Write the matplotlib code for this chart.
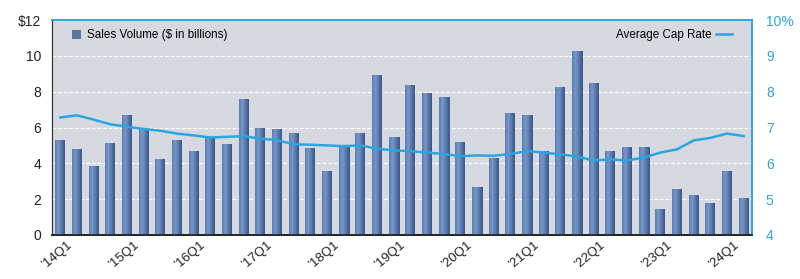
import matplotlib
matplotlib.use("Agg")
import matplotlib.pyplot as plt
import matplotlib.transforms as mtransforms
import numpy as np
from matplotlib.colors import LinearSegmentedColormap
from matplotlib.lines import Line2D
from matplotlib.patches import Patch

plt.rcParams['font.family'] = ['Liberation Sans', 'DejaVu Sans']

quarters = [f"{y}Q{q}" for y in range(14, 25) for q in range(1, 5)][:42]
tick_labels = ["\u2019" + q if q.endswith("Q1") else "" for q in quarters]

sales_volume = [5.28, 4.78, 3.80, 5.11, 6.70, 5.89, 4.22, 5.30, 4.69, 5.37,
                5.06, 7.59, 5.93, 5.89, 5.65, 4.81, 3.54, 4.96, 5.67, 8.91,
                5.44, 8.35, 7.89, 7.69, 5.19, 2.63, 4.30, 6.76, 6.70, 4.65,
                8.22, 10.24, 8.44, 4.65, 4.87, 4.87, 1.43, 2.56, 2.19, 1.74,
                3.54, 2.04]
cap_rate = [7.28, 7.34, 7.22, 7.09, 7.02, 6.96, 6.91, 6.83, 6.78, 6.72,
            6.74, 6.76, 6.69, 6.65, 6.53, 6.52, 6.50, 6.48, 6.50, 6.41,
            6.36, 6.34, 6.30, 6.26, 6.20, 6.22, 6.21, 6.26, 6.34, 6.30,
            6.25, 6.19, 6.08, 6.11, 6.08, 6.16, 6.30, 6.39, 6.64, 6.71,
            6.83, 6.76]

cyan = "#2aa6df"
bg = "#d6dae0"

fig = plt.figure(figsize=(8.0, 2.79), dpi=100)
ax = fig.add_axes([0.065, 0.158, 0.875, 0.770])
ax.set_facecolor(bg)
x = np.arange(len(sales_volume))
bars = ax.bar(x, sales_volume, width=0.6, color="none", edgecolor="none", zorder=3)

cmap = LinearSegmentedColormap.from_list("barg", ["#5a7db2", "#7898c8", "#5677aa", "#3a5684"])
grad = np.linspace(0, 1, 64).reshape(1, -1)
for b in bars:
    x0, y0 = b.get_x(), b.get_y()
    w, h = b.get_width(), b.get_height()
    ax.imshow(grad, cmap=cmap, extent=[x0, x0 + w, y0, y0 + h], aspect="auto",
              zorder=3, interpolation="bilinear")

ax.set_xlim(-0.5, len(x) - 0.5)
ax.set_ylim(0, 12)
ax.set_yticks(range(0, 13, 2))
ax.set_yticklabels(["0", "2", "4", "6", "8", "10", "$12"])
for yv in range(2, 12, 2):
    ax.axhline(yv, color="white", lw=0.9, ls=(0, (3, 1.5)), zorder=1)
ax.set_xticks(x)
ax.set_xticklabels(tick_labels, rotation=40, ha="right", va="top", rotation_mode="anchor",
                   fontsize=9.5, color="#222222")
ax.tick_params(axis="both", length=0)
ax.tick_params(axis="y", labelsize=10, labelcolor="#222222", pad=8)
ax.tick_params(axis="x", pad=3)
offset = mtransforms.ScaledTranslation(4.5 / 72, 0, fig.dpi_scale_trans)
for lbl in ax.get_xticklabels():
    lbl.set_transform(lbl.get_transform() + offset)

ax2 = ax.twinx()
ax2.plot(x, cap_rate, color=cyan, lw=1.8, zorder=4)
ax2.set_ylim(4, 10)
ax2.set_yticks(range(4, 11))
ax2.set_yticklabels(["4", "5", "6", "7", "8", "9", "10%"])
ax2.tick_params(axis="y", length=0, labelsize=10, labelcolor=cyan, pad=10)

for a in (ax, ax2):
    a.spines["top"].set_color(cyan)
    a.spines["right"].set_color(cyan)
    a.spines["left"].set_color("#333333")
    a.spines["bottom"].set_color("#222222")
    a.spines["bottom"].set_linewidth(1.2)
    a.spines["top"].set_linewidth(1.2)
    a.spines["right"].set_linewidth(1.2)

h1 = Patch(facecolor="#56779f", edgecolor="none")
leg1 = ax2.legend([h1], ["Sales Volume ($ in billions)"], loc="upper left", frameon=False,
                  fontsize=8.4, handlelength=0.8, handleheight=0.9, handletextpad=0.5,
                  bbox_to_anchor=(0.015, 1.0), borderaxespad=0.4)
ax2.add_artist(leg1)
h2 = Line2D([0], [0], color=cyan, lw=1.8)
ax2.legend([h2], ["Average Cap Rate"], loc="upper right", frameon=False, fontsize=8.4,
           markerfirst=False, handlelength=1.4, handletextpad=0.4,
           bbox_to_anchor=(0.985, 1.0), borderaxespad=0.4)

fig.savefig("out.png", dpi=100)
